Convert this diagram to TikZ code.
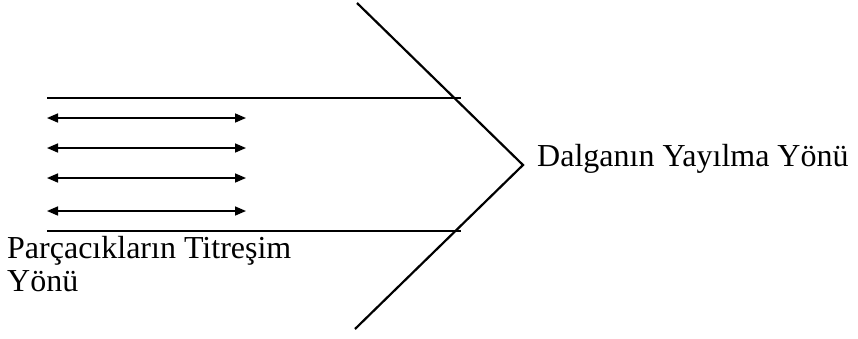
\documentclass[tikz,border=0pt]{standalone}
\usepackage{fontspec}
\setmainfont{Liberation Serif}
\usetikzlibrary{arrows.meta}
\begin{document}
\begin{tikzpicture}[x=1pt,y=-1pt,
  wline/.style={line width=2.2pt},
  vib/.style={line width=1.6pt,{Triangle[length=11pt,width=9pt]}-{Triangle[length=11pt,width=9pt]}},
  lbl/.style={font=\fontsize{32}{38}\selectfont, inner sep=0pt}]
\useasboundingbox (0,0) rectangle (858,338);
\coordinate (t) at (357,3);
\coordinate (apex) at (523,165);
\coordinate (b) at (355,329);
\draw[wline] (t) -- (apex) -- (b);
\coordinate (h1a) at (47,98);
\coordinate (h1b) at (461,98);
\coordinate (h2a) at (47,231);
\coordinate (h2b) at (461,231);
\draw[wline] (h1a) -- (h1b);
\draw[wline] (h2a) -- (h2b);
\foreach \y [count=\i] in {118,148,178,211}{
  \coordinate (al\i) at (47,\y);
  \coordinate (ar\i) at (246,\y);
  \draw[vib] (al\i) -- (ar\i);
}
\node[lbl, anchor=base west] (dal) at (537,166) {Dalganın Yayılma Yönü};
\node[lbl, anchor=base west] (par1) at (7,258) {Parçacıkların Titreşim};
\node[lbl, anchor=base west] (par2) at (7,291) {Yönü};
\end{tikzpicture}
\end{document}
